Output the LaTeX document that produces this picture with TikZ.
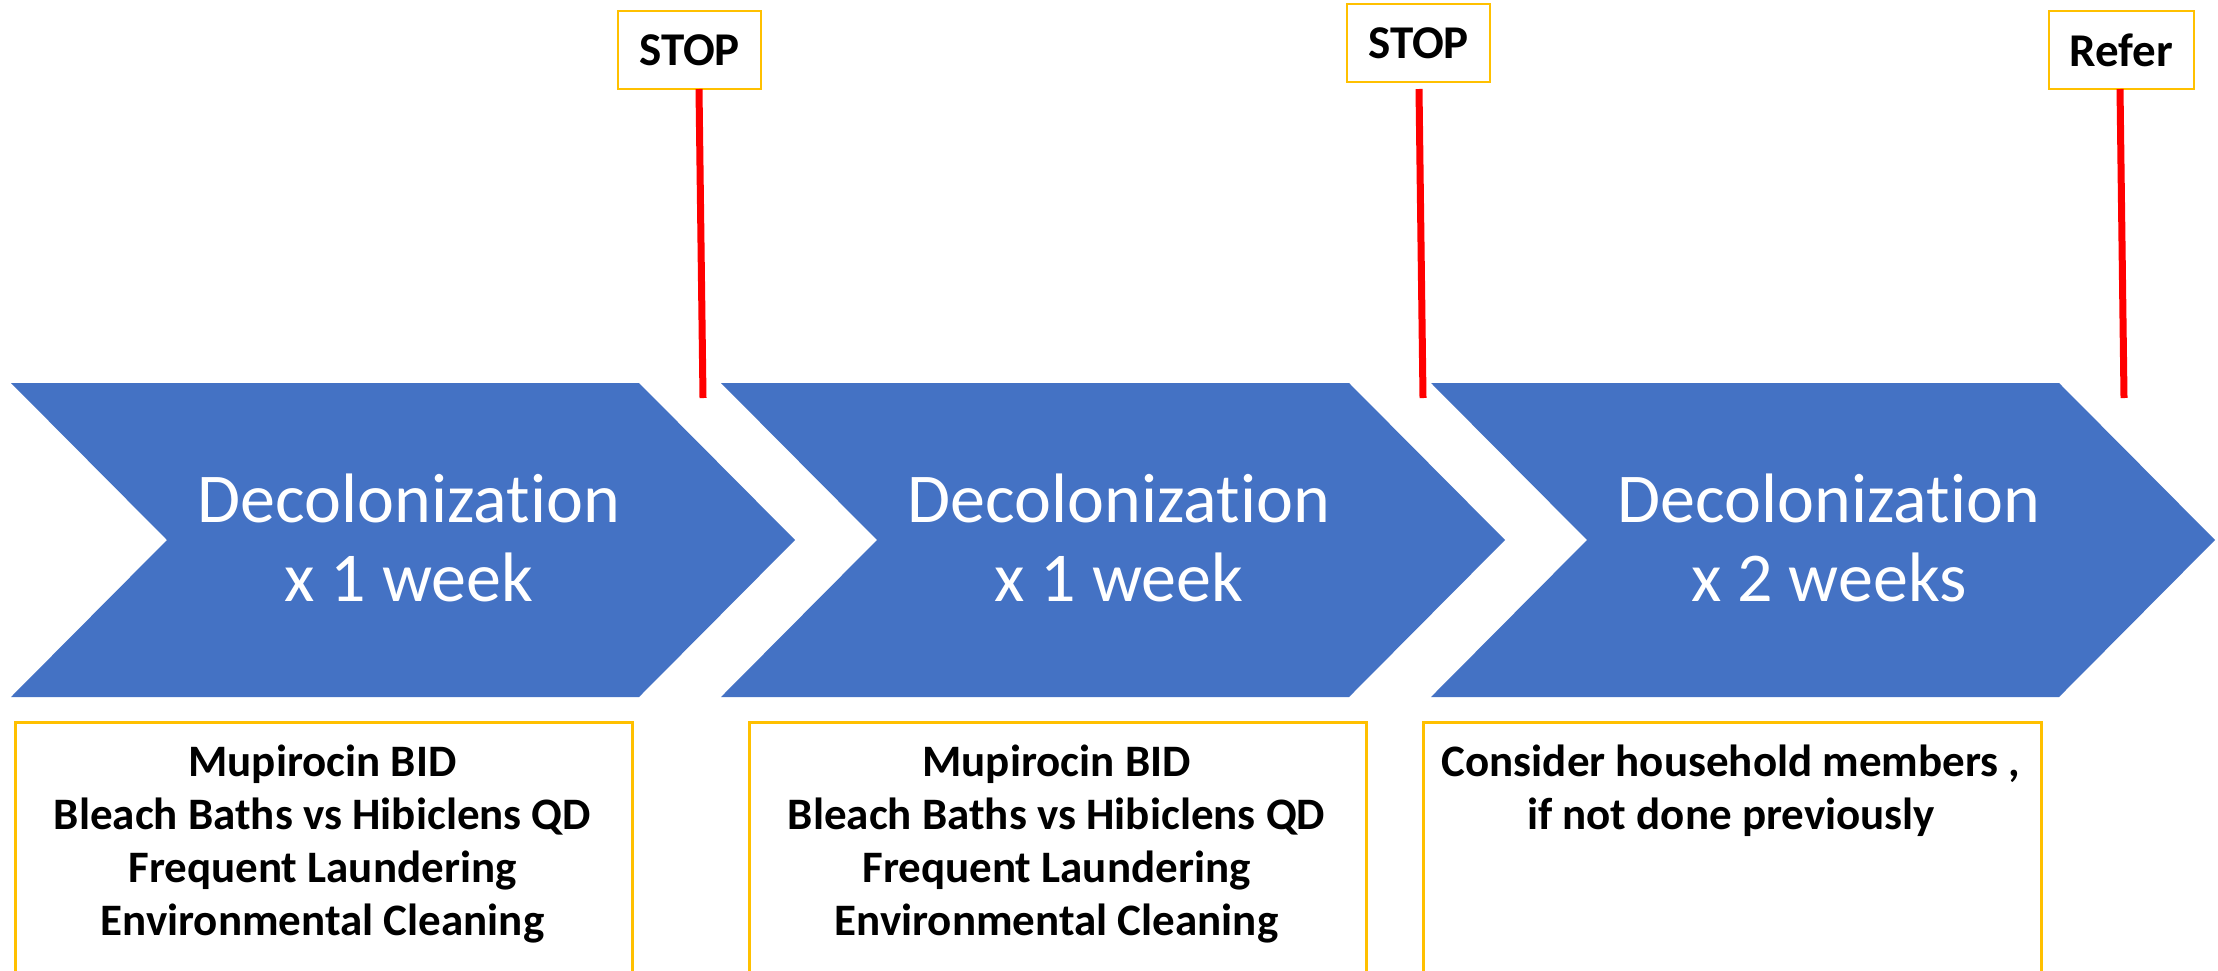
\documentclass[tikz,border=0pt]{standalone}
\usepackage{fontspec}
\setmainfont[Ligatures={NoCommon,NoRare,NoContextual}]{Carlito}
\definecolor{chev}{HTML}{4472C4}
\definecolor{gold}{HTML}{FFC000}
\definecolor{stopred}{HTML}{FF0000}
\tikzset{
  chevtext/.style={text=white, align=center, inner sep=0pt, font=\fontsize{70}{79}\selectfont},
  infobox/.style={draw=gold, line width=2.5pt, fill=white, inner sep=0pt},
  infotext/.style={text=black, align=center, inner sep=0pt, font=\bfseries\fontsize{45}{53}\selectfont},
  signbox/.style={draw=gold, line width=2.5pt, fill=white, inner sep=0pt, minimum height=78pt, font=\bfseries\fontsize{47}{50}\selectfont},
  pole/.style={draw=stopred, line width=7pt}
}
\begin{document}
\begin{tikzpicture}[x=1pt,y=-1pt]
\clip (0,0) rectangle (2218,970);
\fill[white] (0,0) rectangle (2218,970);
% chevrons
\foreach \dx in {0,710,1420}{
  \fill[chev, shift={(\dx,0)}] (11,383) -- (639,383) -- (795,540) -- (639,697) -- (11,697) -- (167,540) -- cycle;
}
\node[chevtext, anchor=north] (t1) at (409,474) {Decolonization\\x 1 week};
\node[chevtext, anchor=north] (t2) at (1119,474) {Decolonization\\x 1 week};
\node[chevtext, anchor=north] (t3) at (1829,474) {Decolonization\\x 2 weeks};
% sign boxes
\node[signbox, minimum width=143pt] (s1) at (689.5,50) {STOP};
\node[signbox, minimum width=143pt] (s2) at (1418.5,43) {STOP};
\node[signbox, minimum width=145pt] (s3) at (2121.5,50) {Refer};
% pole ends
\coordinate (p1t) at (699,89);  \coordinate (p1b) at (703,398);
\coordinate (p2t) at (1419,89); \coordinate (p2b) at (1423,398);
\coordinate (p3t) at (2120,89); \coordinate (p3b) at (2124,398);
\draw[pole] (p1t) -- (p1b);
\draw[pole] (p2t) -- (p2b);
\draw[pole] (p3t) -- (p3b);
% bottom boxes
\node[infobox, anchor=north west, minimum width=617pt, minimum height=300pt] (b1) at (14,721) {};
\node[infobox, anchor=north west, minimum width=617pt, minimum height=300pt] (b2) at (748,721) {};
\node[infobox, anchor=north west, minimum width=618pt, minimum height=300pt] (b3) at (1422,721) {};
\node[infotext, anchor=north] (bt1) at (322.5,745) {Mupirocin BID\\Bleach Baths vs Hibiclens QD\\Frequent Laundering\\Environmental Cleaning};
\node[infotext, anchor=north] (bt2) at (1056.5,745) {Mupirocin BID\\Bleach Baths vs Hibiclens QD\\Frequent Laundering\\Environmental Cleaning};
\node[infotext, anchor=north] (bt3) at (1731,745) {Consider household members ,\\if not done previously};
\end{tikzpicture}
\end{document}
